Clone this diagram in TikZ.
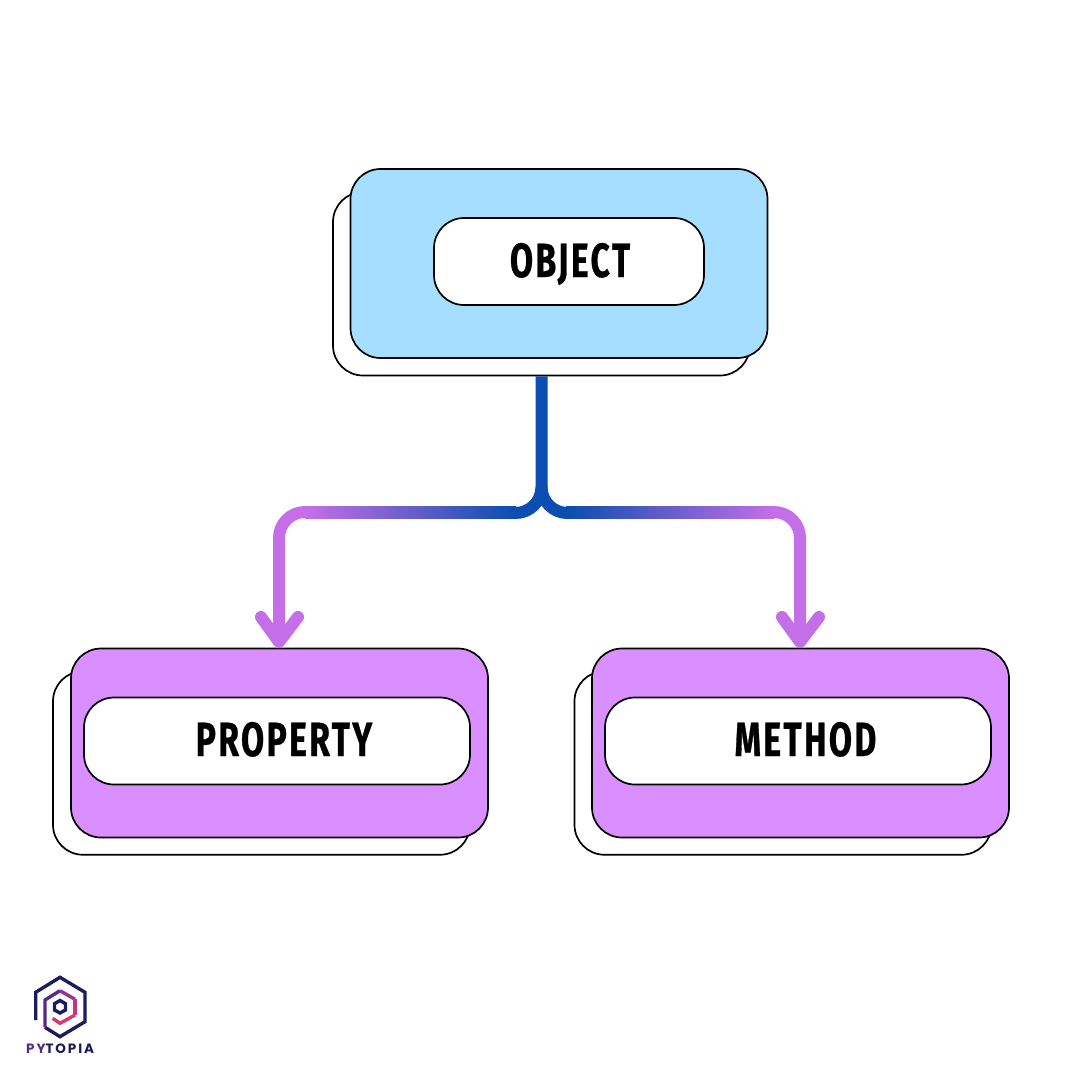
\documentclass[tikz,border=0pt]{standalone}
\usepackage{fontspec}
\setmainfont{Fira Sans}
\newfontfamily\labelfont[FakeStretch=0.70,FakeBold=0.6,LetterSpace=5]{Fira Sans Bold}
\newfontfamily\brandfont[LetterSpace=14]{Poppins}
\definecolor{skyfill}{HTML}{A6DEFF}
\definecolor{lilacfill}{HTML}{D98FFF}
\definecolor{linkblue}{HTML}{0B4DB0}
\definecolor{linkpurple}{HTML}{C46FE8}
\definecolor{logonavy}{HTML}{1B1B5E}
\definecolor{logopurple}{HTML}{5A2A82}
\definecolor{logomid}{HTML}{9A3390}
\definecolor{logomag}{HTML}{C0358A}
\definecolor{logopink}{HTML}{E0356B}
\tikzset{
  card/.style={draw=black,line width=1.7,rounded corners=30,inner sep=0,minimum width=417,minimum height=189},
  backcard/.style={card,fill=white,minimum height=183.5},
  pill/.style={draw=black,line width=1.7,fill=white,rounded corners=30,inner sep=0,minimum height=87},
  word/.style={font=\labelfont\fontsize{48}{48}\selectfont,inner sep=0,text=black,anchor=base},
  link/.style={line width=12,draw=linkpurple,line join=round},
  stem/.style={line width=12,draw=linkblue},
  tip/.style={line width=12,draw=linkpurple,line cap=round,line join=round},
  logoline/.style={line width=3.4,line join=miter}
}
\begin{document}
\begin{tikzpicture}[x=1pt,y=-1pt]
\useasboundingbox (0,0) rectangle (1080,1080);
\fill[white] (0,0) rectangle (1080,1080);
% object
\node[backcard] (objback) at (541.5,283.75) {};
\node[card,fill=skyfill] (objcard) at (559,263.5) {};
\node[pill,minimum width=270] (objpill) at (569,261.5) {};
\node[word] (objtext) at (570,277) {OBJECT};
% property
\node[backcard] (propback) at (261.5,763) {};
\node[card,fill=lilacfill] (propcard) at (279.5,743) {};
\node[pill,minimum width=386] (proppill) at (277,741) {};
\node[word] (proptext) at (284,756) {PROPERTY};
% method
\node[backcard] (methback) at (783,763) {};
\node[card,fill=lilacfill] (methcard) at (800.5,743) {};
\node[pill,minimum width=386] (methpill) at (798,741) {};
\node[word] (methtext) at (805.5,756) {METHOD};
% connector coordinates
\coordinate (fork) at (541.5,487);
\coordinate (ltip) at (279,642);
\coordinate (rtip) at (800,642);
% left and right connectors
\draw[link] (515,512) -- (305,512) arc[start angle=270,end angle=180,radius=26] -- (ltip);
\draw[link] (567,512) -- (774,512) arc[start angle=270,end angle=360,radius=26] -- (rtip);
\draw[tip] (261,617) -- (ltip) -- (298,617);
\draw[tip] (782,617) -- (rtip) -- (819,617);
\shade[left color=linkpurple,right color=linkblue] (305,506) rectangle (516,518);
\shade[left color=linkblue,right color=linkpurple] (566,506) rectangle (774,518);
% stem and fork
\draw[stem] (objback.south) -- (fork) arc[start angle=0,end angle=90,radius=26];
\draw[stem] (fork) arc[start angle=180,end angle=90,radius=26];
% logo
\draw[logoline,logonavy] (35.7,1020) -- (35.7,992.3) -- (60,977.3) -- (85,992.3) -- (85,1021.7) -- (60,1036.7) -- (45,1027.3);
\draw[logoline,logopurple] (45,1027.3) -- (45,1000) -- (60,990.7);
\draw[logoline,logomid] (60,990.7) -- (75,999.3);
\draw[logoline,logomag] (75,999.3) -- (75,1015);
\draw[logoline,logopink] (75,1015) -- (60,1023.3) -- (52.7,1018.3);
\draw[logoline,logonavy] (60,1000.5) -- (65.5,1003.7) -- (65.5,1010) -- (60,1013) -- (54.5,1010) -- (54.5,1003.7) -- cycle;
\node[inner sep=0,anchor=base west,font=\brandfont\bfseries\fontsize{13.5}{13.5}\selectfont] (brand) at (26,1053.5) {\textcolor{logopurple}{PY}\textcolor{logonavy}{TOPIA}};
\end{tikzpicture}
\end{document}
